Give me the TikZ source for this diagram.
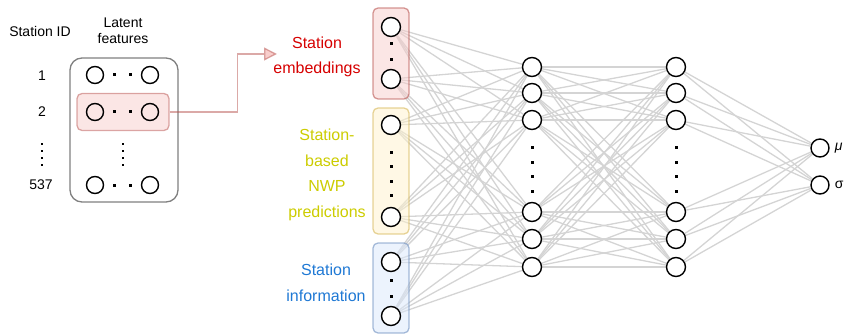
\documentclass[tikz,border=0pt]{standalone}
\usepackage{fontspec}
\setmainfont{Liberation Sans}
\usetikzlibrary{arrows.meta,positioning,backgrounds}

\definecolor{linkgray}{RGB}{212,212,212}
\definecolor{embfill}{RGB}{248,206,204}
\definecolor{embline}{RGB}{184,84,80}
\definecolor{nwpfill}{RGB}{255,242,204}
\definecolor{nwpline}{RGB}{214,182,86}
\definecolor{infofill}{RGB}{218,232,252}
\definecolor{infoline}{RGB}{108,142,191}
\definecolor{embred}{RGB}{214,0,0}
\definecolor{nwpyellow}{RGB}{204,204,0}
\definecolor{infoblue}{RGB}{30,120,212}

\begin{document}
\begin{tikzpicture}[x=1pt,y=-1pt,
    neuron/.style={circle,draw,line width=1.4pt,fill=white,minimum size=19pt,inner sep=0pt},
    latent/.style={circle,draw,line width=1.4pt,minimum size=17pt,inner sep=0pt},
    sqdot/.style={fill,inner sep=0pt,minimum size=3pt},
    tinydot/.style={fill,inner sep=0pt,minimum size=1.6pt},
    link/.style={draw=linkgray,line width=1.3pt},
    idtext/.style={font=\fontsize{14}{16}\selectfont,inner sep=0pt},
    grouptext/.style={font=\fontsize{16}{25.5}\selectfont,align=center,inner sep=0pt},
    inbox/.style 2 args={draw=#2,draw opacity=.6,fill=#1,fill opacity=.5,
      line width=1.3pt,rounded corners=5pt,minimum width=36pt,inner sep=0pt}]
  \useasboundingbox (0,0) rectangle (848,334);

  % left panel: latent features per station
  \node[idtext] (idhead) at (40,31) {Station ID};
  \node[idtext,align=center] (lathead) at (123,31) {Latent\\features};
  \node[draw=gray,line width=1.3pt,rounded corners=12pt,minimum width=108pt,
    minimum height=144pt] (latbox) at (124,130) {};
  \node[draw=embline,draw opacity=.5,fill=embfill,fill opacity=.5,line width=1.3pt,
    rounded corners=5pt,minimum width=92pt,minimum height=37pt] (selrow) at (123,112) {};

  \node[idtext] (id1) at (42,76) {1};
  \node[idtext] (id2) at (42,112) {2};
  \node[idtext] (id537) at (41,185) {537};
  \foreach \y in {144,151,158,165} {
    \node[tinydot] at (42,\y) {};
    \node[tinydot] at (123,\y) {};
  }
  \foreach \r/\y in {a/75,b/112,c/185} {
    \node[latent] (\r1) at (95,\y) {};
    \node[latent] (\r2) at (150,\y) {};
    \node[sqdot] at (114,\y) {};
    \node[sqdot] at (130,\y) {};
  }

  % arrow to the embedding input
  \coordinate (embin) at (277,54);
  \draw[draw=embline,draw opacity=.5,line width=1.3pt,
    -{Triangle[length=13pt,width=13pt,fill=embfill]}] (selrow.east) -- ++(68,0) |- (embin);

  % input layer
  \node[neuron] (in1) at (391,27) {};
  \node[neuron] (in2) at (391,79) {};
  \node[neuron] (in3) at (391,125) {};
  \node[neuron] (in4) at (391,217) {};
  \node[neuron] (in5) at (391,262) {};
  \node[neuron] (in6) at (391,316) {};
  \foreach \y in {44,60,152,166,181,195,280,296}
    \node[sqdot] at (391,\y) {};

  \node[grouptext,text=embred] (embtext) at (317,57) {Station\\embeddings};
  \node[grouptext,text=nwpyellow] (nwptext) at (327,175) {Station-\\based\\NWP\\predictions};
  \node[grouptext,text=infoblue] (infotext) at (326,283) {Station\\information};

  % hidden layers
  \foreach \i/\y in {1/67,2/93,3/120,4/212,5/239,6/267} {
    \node[neuron] (h\i) at (532,\y) {};
    \node[neuron] (g\i) at (676,\y) {};
  }
  \foreach \y in {147,162,176,191} {
    \node[sqdot] at (532,\y) {};
    \node[sqdot] at (676,\y) {};
  }

  % output layer
  \node[neuron,minimum size=18pt] (o1) at (820,148) {};
  \node[neuron,minimum size=18pt] (o2) at (820,185) {};
  \node[right=5pt of o1,inner sep=0pt,font=\fontsize{14}{14}\selectfont] (mu) {\textit{μ}};
  \node[right=5pt of o2,inner sep=0pt,font=\fontsize{14}{14}\selectfont] (sigma) {σ};

  \begin{scope}[on background layer]
    \foreach \i in {1,...,6}
      \foreach \j in {1,...,6} {
        \draw[link] (in\i) -- (h\j);
        \draw[link] (h\i) -- (g\j);
      }
    \foreach \i in {1,...,6} {
      \draw[link] (g\i) -- (o1);
      \draw[link] (g\i) -- (o2);
    }
    \node[inbox={embfill}{embline},minimum height=91pt] (embbox) at (391,53.5) {};
    \node[inbox={nwpfill}{nwpline},minimum height=126pt] (nwpbox) at (391,171) {};
    \node[inbox={infofill}{infoline},minimum height=90pt] (infobox) at (391,288) {};
  \end{scope}
\end{tikzpicture}
\end{document}
